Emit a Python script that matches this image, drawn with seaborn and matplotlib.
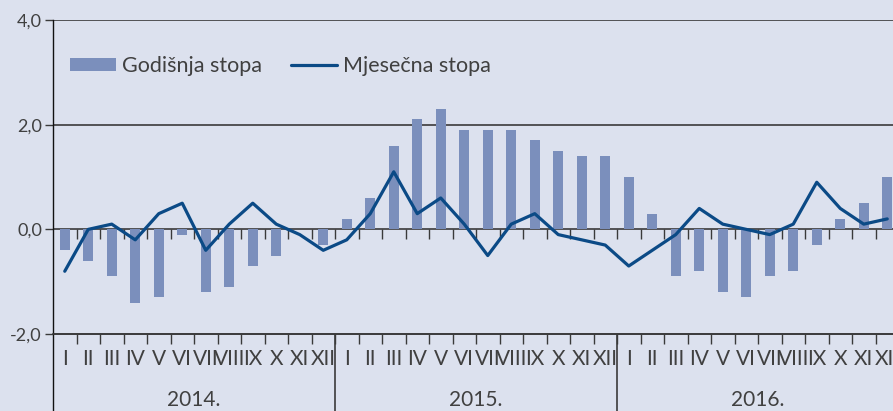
import numpy as np
import pandas as pd
import matplotlib
matplotlib.use('Agg')
import matplotlib.pyplot as plt
import seaborn as sns
from matplotlib.patches import Patch
from matplotlib.lines import Line2D
from matplotlib.ticker import FixedLocator, FuncFormatter

# podaci
godine = ['2014.', '2015.', '2016.']
mjeseci = ['I', 'II', 'III', 'IV', 'V', 'VI', 'VII', 'VIII', 'IX', 'X', 'XI', 'XII']

godisnja_stopa = [
    -0.4, -0.6, -0.9, -1.4, -1.3, -0.1, -1.2, -1.1, -0.7, -0.5, 0.0, -0.3,
    0.2, 0.6, 1.6, 2.1, 2.3, 1.9, 1.9, 1.9, 1.7, 1.5, 1.4, 1.4,
    1.0, 0.3, -0.9, -0.8, -1.2, -1.3, -0.9, -0.8, -0.3, 0.2, 0.5, 1.0,
]
mjesecna_stopa = [
    -0.8, 0.0, 0.1, -0.2, 0.3, 0.5, -0.4, 0.1, 0.5, 0.1, -0.1, -0.4,
    -0.2, 0.3, 1.1, 0.3, 0.6, 0.1, -0.5, 0.1, 0.3, -0.1, -0.2, -0.3,
    -0.7, -0.4, -0.1, 0.4, 0.1, 0.0, -0.1, 0.1, 0.9, 0.4, 0.1, 0.2,
]

df = pd.DataFrame({
    'poz': np.arange(len(godisnja_stopa)),
    'godisnja': godisnja_stopa,
    'mjesecna': mjesecna_stopa,
})

# boje
bg = '#dce1ee'
bar_c = '#7b8fbc'
line_c = '#0b4a86'
txt_c = '#404040'
os_c = '#3a3a3a'

sns.set_theme(style='white')
plt.rcParams['font.family'] = ['Lato', 'DejaVu Sans']

fig = plt.figure(figsize=(8.93, 4.11), dpi=100)
fig.patch.set_facecolor(bg)
ax = fig.add_axes([53 / 893, 0, 840 / 893, 391 / 411])
ax.set_facecolor(bg)

sns.barplot(data=df, x='poz', y='godisnja', color=bar_c, saturation=1,
            width=0.42, native_scale=True, errorbar=None, linewidth=0,
            ax=ax, zorder=2)
sns.lineplot(data=df, x='poz', y='mjesecna', color=line_c, lw=2.3, ax=ax, zorder=4)

ax.set_xlim(-0.5, -0.5 + 840 / 23.5)
ax.set_ylim(-3.47, 4.0)
ax.set_xlabel('')
ax.set_ylabel('')

# osi
for s in ['top', 'right']:
    ax.spines[s].set_visible(False)
ax.spines['left'].set_color('#111111')
ax.spines['left'].set_linewidth(1.0)
ax.spines['bottom'].set_position(('data', -2))
ax.spines['bottom'].set_color(os_c)
ax.spines['bottom'].set_linewidth(1.2)

ax.set_yticks([-2, 0, 2, 4])
ax.yaxis.set_major_formatter(FuncFormatter(lambda v, p: f'{v:.1f}'.replace('.', ',')))
ax.tick_params(axis='y', direction='out', length=6, width=1, color=os_c,
               labelsize=13, labelcolor=txt_c, pad=2, left=True)
ax.grid(axis='y', color=os_c, lw=1.2, zorder=1)
ax.set_axisbelow(True)

n = len(df)
granice = np.arange(0.5, n, 1.0)
ax.xaxis.set_major_locator(FixedLocator(df['poz']))
ax.set_xticklabels(mjeseci * len(godine))
ax.xaxis.set_minor_locator(FixedLocator(granice))
ax.tick_params(axis='x', which='major', length=0, pad=11, labelsize=15, labelcolor=txt_c)
ax.tick_params(axis='x', which='minor', direction='out', length=7, width=1,
               color=os_c, bottom=True)

# crtice na nultoj liniji
y0 = (0 - (-3.47)) / (4.0 + 3.47)
sec = ax.secondary_xaxis(y0)
sec.set_xticks(granice)
sec.tick_params(axis='x', direction='out', length=7, width=1, color=os_c,
                bottom=True, top=False, labelbottom=False, labeltop=False)
for s in sec.spines.values():
    s.set_visible(False)

# razdjelnici godina i oznake
for k, g in enumerate(godine):
    ax.text(5.5 + 12 * k, -3.26, g, ha='center', va='center', fontsize=15, color=txt_c)
ax.vlines([11.5, 23.5], -3.47, -2, color=os_c, lw=1.2)

handles = [Patch(facecolor=bar_c, edgecolor='none'),
           Line2D([], [], color=line_c, lw=2.3)]
fig.legend(handles, ['Godišnja stopa', 'Mjesečna stopa'], ncol=2,
           loc='center left', bbox_to_anchor=(70 / 893, 1 - 66 / 411),
           frameon=False, fontsize=15.5, borderpad=0, borderaxespad=0,
           handlelength=2.14, handleheight=0.55, handletextpad=0.28,
           columnspacing=1.35, labelcolor=txt_c)

fig.savefig('out.png', dpi=100, facecolor=bg)
